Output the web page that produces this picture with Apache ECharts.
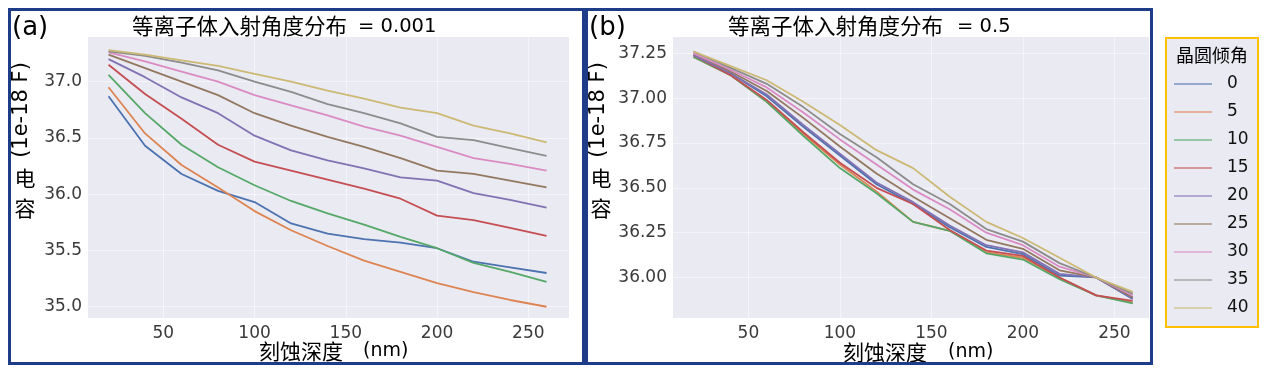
<!DOCTYPE html>
<html>
<head>
<meta charset="utf-8">
<script src="https://cdn.jsdelivr.net/npm/echarts@6/dist/echarts.min.js"></script>
<style>
html,body{margin:0;padding:0;background:#fff;}
#chart{width:1267px;height:368px;}
</style>
</head>
<body>
<div id="chart"></div>
<script>
// ---- data ----
const depthNm = [20, 40, 60, 80, 100, 120, 140, 160, 180, 200, 220, 240, 260];
const tiltAngles = ['0', '5', '10', '15', '20', '25', '30', '35', '40'];
const xTicks = [50, 100, 150, 200, 250];
const yTicksA = [35.0, 35.5, 36.0, 36.5, 37.0];
const yTicksB = [36.00, 36.25, 36.50, 36.75, 37.00, 37.25];

// panel (a): plasma incidence angle distribution = 0.001
const a_tilt0  = [36.87, 36.43, 36.18, 36.03, 35.93, 35.74, 35.65, 35.60, 35.57, 35.52, 35.40, 35.35, 35.30];
const a_tilt5  = [36.95, 36.54, 36.26, 36.06, 35.85, 35.68, 35.54, 35.41, 35.31, 35.21, 35.13, 35.06, 35.00];
const a_tilt10 = [37.06, 36.72, 36.44, 36.24, 36.08, 35.94, 35.83, 35.73, 35.62, 35.52, 35.39, 35.31, 35.22];
const a_tilt15 = [37.15, 36.89, 36.67, 36.44, 36.29, 36.21, 36.13, 36.05, 35.96, 35.81, 35.77, 35.70, 35.63];
const a_tilt20 = [37.20, 37.04, 36.86, 36.72, 36.52, 36.39, 36.30, 36.23, 36.15, 36.12, 36.01, 35.95, 35.88];
const a_tilt25 = [37.24, 37.12, 37.00, 36.88, 36.72, 36.61, 36.51, 36.42, 36.32, 36.21, 36.18, 36.12, 36.06];
const a_tilt30 = [37.26, 37.18, 37.09, 37.00, 36.88, 36.79, 36.70, 36.60, 36.52, 36.42, 36.32, 36.27, 36.21];
const a_tilt35 = [37.27, 37.23, 37.17, 37.10, 37.00, 36.91, 36.80, 36.72, 36.63, 36.51, 36.48, 36.41, 36.34];
const a_tilt40 = [37.28, 37.24, 37.19, 37.14, 37.07, 37.00, 36.92, 36.85, 36.77, 36.72, 36.61, 36.54, 36.46];

// panel (b): plasma incidence angle distribution = 0.5
const b_tilt0  = [37.24, 37.14, 37.01, 36.84, 36.68, 36.52, 36.41, 36.28, 36.17, 36.13, 36.01, 36.00, 35.88];
const b_tilt5  = [37.23, 37.13, 36.98, 36.80, 36.63, 36.48, 36.31, 36.26, 36.14, 36.11, 36.00, 35.90, 35.86];
const b_tilt10 = [37.23, 37.13, 36.98, 36.79, 36.61, 36.47, 36.31, 36.26, 36.135, 36.10, 35.99, 35.90, 35.855];
const b_tilt15 = [37.24, 37.13, 36.99, 36.81, 36.64, 36.50, 36.41, 36.265, 36.15, 36.12, 36.00, 35.90, 35.87];
const b_tilt20 = [37.24, 37.14, 37.02, 36.85, 36.69, 36.53, 36.42, 36.29, 36.18, 36.14, 36.02, 36.00, 35.885];
const b_tilt25 = [37.25, 37.15, 37.04, 36.89, 36.73, 36.58, 36.45, 36.33, 36.21, 36.16, 36.04, 36.00, 35.89];
const b_tilt30 = [37.25, 37.16, 37.06, 36.92, 36.77, 36.63, 36.49, 36.38, 36.25, 36.18, 36.06, 36.00, 35.90];
const b_tilt35 = [37.26, 37.17, 37.08, 36.95, 36.80, 36.67, 36.52, 36.41, 36.27, 36.20, 36.08, 36.00, 35.91];
const b_tilt40 = [37.26, 37.18, 37.10, 36.98, 36.85, 36.71, 36.61, 36.45, 36.31, 36.22, 36.11, 36.00, 35.92];

const panelA = [a_tilt0, a_tilt5, a_tilt10, a_tilt15, a_tilt20, a_tilt25, a_tilt30, a_tilt35, a_tilt40];
const panelB = [b_tilt0, b_tilt5, b_tilt10, b_tilt15, b_tilt20, b_tilt25, b_tilt30, b_tilt35, b_tilt40];

// ---- styles ----
const palette = ['#4C72B0', '#DD8452', '#55A868', '#C44E52', '#8172B3', '#937860', '#DA8BC3', '#8C8C8C', '#CCB974'];
const numFont = 'DejaVu Sans';
const cjkFont = '"Noto Sans CJK SC"';
const tickColor = '#3a3a3a';
const frameColor = '#1F3C88';
const gridLineColor = 'rgba(255,255,255,0.5)';

const chart = echarts.init(document.getElementById('chart'), null, {renderer: 'canvas'});

function xAxisCfg(idx, min, max) {
  return {
    type: 'value', gridIndex: idx, min: min, max: max,
    axisLine: {show: false},
    axisTick: {show: false, customValues: xTicks},
    axisLabel: {customValues: xTicks, color: tickColor, fontFamily: numFont, fontSize: 17, margin: 7},
    splitLine: {show: true, lineStyle: {color: gridLineColor, width: 1}}
  };
}
function yAxisCfg(idx, min, max, ticks, dec) {
  return {
    type: 'value', gridIndex: idx, min: min, max: max,
    axisLine: {show: false},
    axisTick: {show: false, customValues: ticks},
    axisLabel: {customValues: ticks, color: tickColor, fontFamily: numFont, fontSize: 17, margin: 6,
      formatter: v => Number(v).toFixed(dec)},
    splitLine: {show: true, lineStyle: {color: gridLineColor, width: 1}}
  };
}

const series = [];
[panelA, panelB].forEach((panel, p) => {
  panel.forEach((vals, i) => {
    series.push({
      type: 'line', name: tiltAngles[i], xAxisIndex: p, yAxisIndex: p,
      data: depthNm.map((d, k) => [d, vals[k]]),
      symbol: 'none', showSymbol: false, smooth: false,
      lineStyle: {width: 1.8, color: palette[i]},
      itemStyle: {color: palette[i]},
      emphasis: {disabled: true}, animation: false
    });
  });
});

function txt(text, x, y, font, opts) {
  return Object.assign({
    type: 'text', x: x, y: y, silent: true,
    style: Object.assign({text: text, font: font, fill: '#000', align: 'left', verticalAlign: 'middle'}, (opts && opts.style) || {})
  }, (opts && opts.el) || {});
}

const graphics = [
  // panel frames
  {type: 'rect', shape: {x: 9.5, y: 9.5, width: 574, height: 354}, style: {fill: 'none', stroke: frameColor, lineWidth: 3}, silent: true, z: 100},
  {type: 'rect', shape: {x: 586.5, y: 9.5, width: 565, height: 354}, style: {fill: 'none', stroke: frameColor, lineWidth: 3}, silent: true, z: 100},
  // legend box
  {type: 'rect', shape: {x: 1166, y: 38, width: 92, height: 289}, style: {fill: '#eaeaf2', stroke: '#FFC000', lineWidth: 2}, silent: true, z: -1},
  txt('晶圆倾角', 1212, 55, '18px ' + cjkFont, {style: {align: 'center'}}),
  // panel labels
  txt('(a)', 12, 28, '26px ' + numFont),
  txt('(b)', 589, 28, '26px ' + numFont),
  // titles
  txt('等离子体入射角度分布', 132, 26, '21.5px ' + cjkFont),
  txt('= 0.001', 358, 27, '19.5px ' + numFont),
  txt('等离子体入射角度分布', 728, 26, '21.5px ' + cjkFont),
  txt('= 0.5', 957, 27, '19.5px ' + numFont),
  // x-axis names
  txt('刻蚀深度', 259, 351, '21px ' + cjkFont),
  txt('(nm)', 363, 351, '19px ' + numFont),
  txt('刻蚀深度', 843, 352, '21px ' + cjkFont),
  txt('(nm)', 948, 352, '19px ' + numFont),
  // y-axis names
  txt('(1e-18 F)', 22, 110, '21px ' + numFont, {style: {align: 'center'}, el: {rotation: Math.PI / 2}}),
  txt('电', 25, 178, '21px ' + cjkFont, {style: {align: 'center'}}),
  txt('容', 25, 208, '21px ' + cjkFont, {style: {align: 'center'}}),
  txt('(1e-18 F)', 599, 110, '21px ' + numFont, {style: {align: 'center'}, el: {rotation: Math.PI / 2}}),
  txt('电', 601, 178, '21px ' + cjkFont, {style: {align: 'center'}}),
  txt('容', 601, 208, '21px ' + cjkFont, {style: {align: 'center'}})
];

chart.setOption({
  animation: false,
  backgroundColor: '#ffffff',
  grid: [
    {left: 88, top: 37, width: 481, height: 281, show: true, backgroundColor: '#eaeaf2', borderWidth: 0, containLabel: false},
    {left: 673, top: 37, width: 476, height: 281, show: true, backgroundColor: '#eaeaf2', borderWidth: 0, containLabel: false}
  ],
  xAxis: [xAxisCfg(0, 8.74, 272.3), xAxisCfg(1, 8.8, 268.9)],
  yAxis: [yAxisCfg(0, 34.90, 37.397, yTicksA, 1), yAxisCfg(1, 35.774, 37.341, yTicksB, 2)],
  legend: {
    data: tiltAngles, orient: 'vertical', left: 1174, top: 74, padding: 0,
    icon: 'rect', itemWidth: 38, itemHeight: 2, itemGap: 8,
    selectedMode: false,
    itemStyle: {opacity: 0.55},
    textStyle: {fontFamily: numFont, fontSize: 17, color: '#111', lineHeight: 20, padding: [0, 0, 0, 10]}
  },
  series: series,
  graphic: graphics
});
</script>
</body>
</html>
